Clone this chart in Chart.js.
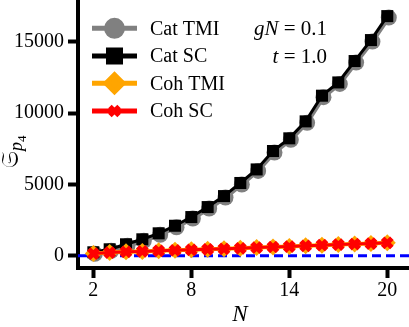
<!DOCTYPE html>
<html><head><meta charset="utf-8">
<script src="https://cdn.jsdelivr.net/npm/chart.js@4/dist/chart.umd.min.js"></script>
<style>html,body{margin:0;padding:0;background:#fff}#wrap{width:409px;height:327px;position:relative}</style>
</head><body><div id="wrap"><canvas id="c"></canvas></div>
<script>
const Ns = [2,3,4,5,6,7,8,9,10,11,12,13,14,15,16,17,18,19,20];
const catTMI = [240,450,800,1150,1570,2100,2710,3410,4180,5100,6050,7340,8230,9420,11220,12150,13650,15120,16800];
const catSC  = [240,450,800,1150,1570,2100,2710,3410,4180,5100,6050,7340,8230,9420,11220,12150,13650,15120,16800];
const cohTMI = [150,220,270,300,340,380,410,450,480,520,570,610,640,690,740,780,820,850,900];
const cohSC  = [150,220,270,300,340,380,410,450,480,520,570,610,640,690,740,780,820,850,900];
const xTicks = [2,8,14,20];
const yTicks = [0,5000,10000,15000];
const seriesNames = ['Cat TMI','Cat SC','Coh TMI','Coh SC'];
const xRange = [1.06, 21.33];
const yRange = [-862, 17930];
const refLine = [0, 0];

const FONT = '"Liberation Serif", "DejaVu Serif", serif';
const pts = arr => Ns.map((n,i)=>({x:n, y:arr[i]}));

const styles = [
  {color:'#808080', pointStyle:'circle', radius:8, bw:0, lw:4},
  {color:'#000000', pointStyle:'rect', radius:8.5, bw:0, lw:3},
  {color:'#FFA500', pointStyle:'rectRot', radius:8.5, bw:0, lw:4},
  {color:'#FF0000', pointStyle:'crossRot', radius:6.5, bw:5, lw:3}
];
const seriesData = [catTMI, catSC, cohTMI, cohSC];

const datasets = seriesData.map((arr,i)=>({
  label: seriesNames[i],
  data: pts(arr),
  borderColor: styles[i].color,
  backgroundColor: styles[i].color,
  pointBackgroundColor: styles[i].color,
  pointBorderColor: styles[i].color,
  borderWidth: styles[i].lw,
  pointStyle: styles[i].pointStyle,
  pointRadius: styles[i].radius,
  pointBorderWidth: styles[i].bw,
  pointHoverRadius: styles[i].radius,
  tension: 0,
  order: 4 - i,
  clip: false
}));
datasets.push({
  label: 'zero',
  data: xRange.map((x,i)=>({x:x, y:refLine[i]})),
  borderColor: '#0000FF',
  borderWidth: 3,
  borderDash: [9,5],
  pointRadius: 0,
  order: 10
});

const shadowShift = {
  id: 'shadowShift',
  beforeDatasetDraw(chart, args) {
    if (args.index === 0) { chart.ctx.save(); chart.ctx.translate(1.5, 1.5); }
  },
  afterDatasetDraw(chart, args) {
    if (args.index === 0) { chart.ctx.restore(); }
  }
};

const overlay = {
  id: 'overlay',
  afterDraw(chart) {
    const ctx = chart.ctx;
    ctx.save();
    // legend
    const ys = [28.3, 56, 83.3, 111];
    styles.forEach((s,i)=>{
      const y = ys[i];
      ctx.strokeStyle = s.color; ctx.lineWidth = 5; ctx.setLineDash([]);
      ctx.beginPath(); ctx.moveTo(92,y); ctx.lineTo(137,y); ctx.stroke();
      ctx.fillStyle = s.color; ctx.strokeStyle = s.color;
      Chart.helpers.drawPoint(ctx, {pointStyle:s.pointStyle, radius:s.radius, borderWidth:s.bw||0.01, rotation:0}, 114.5, y);
      ctx.fillStyle = '#000';
      ctx.font = '20px ' + FONT;
      ctx.textBaseline = 'middle'; ctx.textAlign = 'left';
      ctx.fillText(seriesNames[i], 150, y + 1);
    });
    // annotations
    function drawParts(parts, right, y) {
      let total = 0;
      parts.forEach(p=>{ ctx.font = p[1]; total += ctx.measureText(p[0]).width; });
      let x = right - total;
      parts.forEach(p=>{ ctx.font = p[1]; ctx.fillText(p[0], x, y); x += ctx.measureText(p[0]).width; });
    }
    ctx.textAlign = 'left'; ctx.textBaseline = 'middle'; ctx.fillStyle = '#000';
    drawParts([['g','italic 21px '+FONT],['N','italic 21px '+FONT],[' = 0.1','21px '+FONT]], 327, 29);
    drawParts([['t','italic 21px '+FONT],[' = 1.0','21px '+FONT]], 327, 57);
    // x label
    ctx.font = 'italic 23px ' + FONT; ctx.textAlign = 'center'; ctx.textBaseline = 'middle';
    ctx.fillText('N', 240, 315);
    // y label
    ctx.save();
    ctx.translate(18, 168);
    ctx.rotate(-Math.PI/2);
    ctx.textAlign = 'left'; ctx.textBaseline = 'alphabetic';
    ctx.font = '24px "DejaVu Serif", "DejaVu Sans", ' + FONT;
    ctx.fillText('\u{1D516}', 0, 0);
    let w = ctx.measureText('\u{1D516}').width;
    ctx.font = 'italic 18px ' + FONT;
    ctx.fillText('p', w, 4);
    let w2 = ctx.measureText('p').width;
    ctx.font = '13px ' + FONT;
    ctx.fillText('4', w + w2, 8);
    ctx.restore();
    ctx.restore();
  }
};

const noPad = s => { s.paddingTop = 0; s.paddingBottom = 0; s.paddingLeft = 0; s.paddingRight = 0; };

new Chart(document.getElementById('c'), {
  type: 'line',
  data: { datasets },
  options: {
    responsive: true, maintainAspectRatio: false, animation: false,
    layout: { autoPadding: false, padding: {left:0, right:0, top:0, bottom:0} },
    plugins: { legend: {display:false}, tooltip: {enabled:false} },
    scales: {
      x: {
        type: 'linear', min: xRange[0], max: xRange[1],
        afterBuildTicks: s => { s.ticks = xTicks.map(v=>({value:v})); },
        afterFit: s => { s.height = 59; noPad(s); },
        grid: { drawOnChartArea:false, drawTicks:true, tickLength:10, tickWidth:4, tickColor:'#000' },
        border: { display:true, width:4, color:'#000' },
        ticks: { color:'#000', font:{family:FONT, size:20}, padding:1, maxRotation:0, autoSkip:false }
      },
      y: {
        type: 'linear', min: yRange[0], max: yRange[1],
        afterBuildTicks: s => { s.ticks = yTicks.map(v=>({value:v})); },
        afterFit: s => { s.width = 78; noPad(s); },
        grid: { drawOnChartArea:false, drawTicks:true, tickLength:10, tickWidth:4, tickColor:'#000' },
        border: { display:true, width:4, color:'#000' },
        ticks: { color:'#000', font:{family:FONT, size:20}, padding:4, autoSkip:false, callback: v => String(v) }
      }
    }
  },
  plugins: [shadowShift, overlay]
});
</script>
</body></html>
